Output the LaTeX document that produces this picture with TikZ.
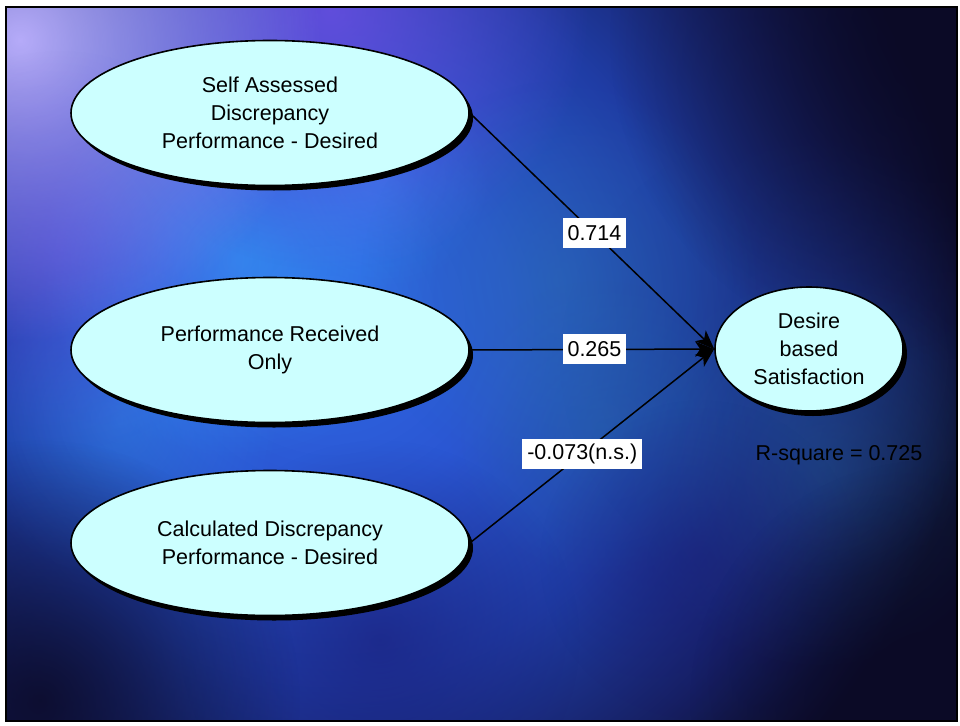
\documentclass[tikz,border=0pt]{standalone}
\usepackage{fontspec}
\setmainfont{Liberation Sans}
\usetikzlibrary{shapes.geometric,arrows.meta,shadows,fadings}

% background palette
\definecolor{navy}{HTML}{0B0A26}
\definecolor{glowA}{HTML}{3068E4}
\definecolor{glowB}{HTML}{2A56D2}
\definecolor{glowC}{HTML}{1F3CA4}
\definecolor{glowD}{HTML}{162064}
\definecolor{lavender}{HTML}{BEB2FF}
\definecolor{violet}{HTML}{7050E6}
\definecolor{skyblue}{HTML}{3AA6FF}
\definecolor{teal}{HTML}{2A74A8}
\definecolor{deepblue}{HTML}{1A1C78}
\definecolor{midblue}{HTML}{1E3C92}
\definecolor{nodefill}{HTML}{CCFFFF}

% main glow: all stops inside the part that TikZ fits to the path
\pgfdeclareradialshading{bgglow}{\pgfpoint{0bp}{0bp}}{%
  color(0bp)=(glowA); color(7bp)=(glowB); color(14bp)=(glowC);
  color(20bp)=(glowD); color(25bp)=(navy); color(50bp)=(navy)}

% soft radial falloff for the glows
\tikzfading[name=softglow, inner color=transparent!0, outer color=transparent!100]

\tikzset{
  bigfont/.style={font=\fontsize{21.5pt}{28pt}\selectfont},
  construct/.style={ellipse, draw=black, line width=1.6pt, fill=nodefill,
    inner sep=0pt, align=center, bigfont,
    drop shadow={shadow xshift=4pt, shadow yshift=-5pt, fill=black, opacity=1}},
  path/.style={draw=black, line width=1.5pt,
    -{Stealth[length=19pt,width=15pt,inset=5pt]}},
  coef/.style={fill=white, inner xsep=5pt, inner ysep=0pt,
    minimum height=30pt, bigfont, text=black},
}

\begin{document}
\begin{tikzpicture}[x=1pt,y=-1pt]
\useasboundingbox (0,0) rectangle (960,725);
\fill[white] (0,0) rectangle (960,725);

% textured blue backdrop
\begin{scope}
  \clip (6,7) rectangle (957,721);
  \fill[navy] (6,7) rectangle (957,721);
  \shade[shading=bgglow] (330,320) circle (640);
  \fill[midblue, opacity=0.55, path fading=softglow] (790,360) circle (230);
  \fill[skyblue, opacity=0.55, path fading=softglow] (240,260) circle (200);
  \fill[skyblue, opacity=0.35, path fading=softglow] (120,420) circle (160);
  \fill[skyblue, opacity=0.30, path fading=softglow] (380,180) circle (110);
  \fill[violet, opacity=0.8, path fading=softglow] (330,10) circle (260);
  \fill[lavender, opacity=0.95, path fading=softglow] (20,40) circle (300);
  \fill[violet, opacity=0.4, path fading=softglow] (60,250) circle (200);
  \fill[teal, opacity=0.45, path fading=softglow] (560,280) circle (200);
  \fill[teal, opacity=0.35, path fading=softglow] (600,430) circle (150);
  \fill[teal, opacity=0.30, path fading=softglow] (820,470) circle (200);
  \fill[deepblue, opacity=0.6, path fading=softglow] (380,640) circle (200);
  \fill[deepblue, opacity=0.5, path fading=softglow] (700,560) circle (160);
  \fill[navy, opacity=0.85, path fading=softglow] (40,700) circle (260);
  \fill[navy, opacity=0.9, path fading=softglow] (930,40) circle (320);
  \fill[navy, opacity=0.7, path fading=softglow] (930,700) circle (240);
\end{scope}
\draw[black, line width=2pt] (6,7) rectangle (957,721);

% constructs
\node[construct, minimum width=398pt, minimum height=145pt] (sad) at (270,113)
  {Self Assessed\\Discrepancy\\Performance - Desired};
\node[construct, minimum width=398pt, minimum height=145pt] (pro) at (270,350)
  {Performance Received\\Only};
\node[construct, minimum width=398pt, minimum height=145pt] (cd) at (270,543)
  {Calculated Discrepancy\\Performance - Desired};
\node[construct, minimum width=188pt, minimum height=124pt] (dbs) at (809,349)
  {Desire\\based\\Satisfaction};

% structural paths with coefficients
\draw[path] (sad.east) -- node[coef, pos=0.51] (c1) {0.714} (dbs.west);
\draw[path] (pro.east) -- node[coef, pos=0.51] (c2) {0.265} (dbs.west);
\draw[path] (cd.east) -- node[coef, pos=0.46] (c3) {-0.073(n.s.)} (dbs.west);

\node[bigfont, text=black] (rsq) at (839,455) {R-square = 0.725};
\end{tikzpicture}
\end{document}
